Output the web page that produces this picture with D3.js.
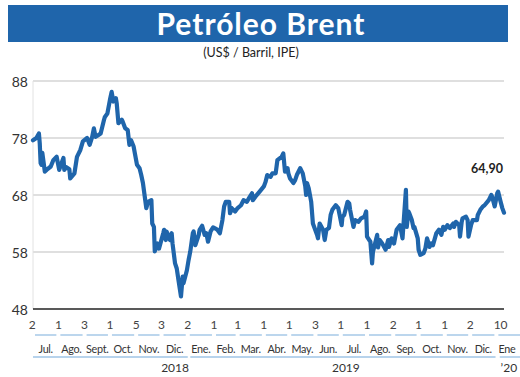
<!DOCTYPE html>
<html>
<head>
<meta charset="utf-8">
<script src="https://cdn.jsdelivr.net/npm/d3@7"></script>
<style>
  body { margin: 0; background: #fff; }
  text { font-family: Lato, "Open Sans", sans-serif; }
</style>
</head>
<body>
<div id="wrapper"></div>
<script>
const title = "Petróleo Brent";
const subtitle = "(US$ / Barril, IPE)";

const yTicks = [48, 58, 68, 78, 88];

// first trading day of each month, shown above the month names
const dayTicks = [
  ["2018-07-01", "2"], ["2018-08-01", "1"], ["2018-09-01", "3"], ["2018-10-01", "1"],
  ["2018-11-01", "5"], ["2018-12-01", "3"], ["2019-01-01", "2"], ["2019-02-01", "1"],
  ["2019-03-01", "1"], ["2019-04-01", "1"], ["2019-05-01", "1"], ["2019-06-01", "3"],
  ["2019-07-01", "1"], ["2019-08-01", "1"], ["2019-09-01", "2"], ["2019-10-01", "1"],
  ["2019-11-01", "1"], ["2019-12-01", "2"], ["2020-01-06", "10"]
];

const months = [
  ["2018-07-01", "Jul."], ["2018-08-01", "Ago."], ["2018-09-01", "Sept."], ["2018-10-01", "Oct."],
  ["2018-11-01", "Nov."], ["2018-12-01", "Dic."], ["2019-01-01", "Ene."], ["2019-02-01", "Feb."],
  ["2019-03-01", "Mar."], ["2019-04-01", "Abr."], ["2019-05-01", "May."], ["2019-06-01", "Jun."],
  ["2019-07-01", "Jul."], ["2019-08-01", "Ago."], ["2019-09-01", "Sep."], ["2019-10-01", "Oct."],
  ["2019-11-01", "Nov."], ["2019-12-01", "Dic."], ["2020-01-01", "Ene"]
];

const years = [
  ["2018-07-02", "2019-01-01", "2018", "2018-12-17"],
  ["2019-01-04", "2019-12-31", "2019", "2019-07-07"],
  ["2020-01-05", "2020-02-01", "’20", "2020-01-06"]
];

const lastLabel = "64,90";

// Brent daily close
const brent = [
  ["2018-07-02",77.6],["2018-07-06",78.0],["2018-07-09",78.8],["2018-07-10",77.0],["2018-07-11",73.6],
  ["2018-07-12",73.3],["2018-07-13",75.4],["2018-07-16",72.1],["2018-07-18",72.4],["2018-07-23",73.0],
  ["2018-07-26",74.1],["2018-07-30",74.7],["2018-08-02",72.4],["2018-08-06",74.1],["2018-08-07",74.5],
  ["2018-08-08",72.4],["2018-08-10",72.9],["2018-08-14",72.5],["2018-08-15",70.9],["2018-08-20",71.8],
  ["2018-08-23",74.7],["2018-08-27",75.9],["2018-08-30",77.4],["2018-09-04",78.0],["2018-09-07",76.8],
  ["2018-09-10",78.2],["2018-09-12",79.7],["2018-09-14",78.2],["2018-09-17",78.5],["2018-09-20",78.8],
  ["2018-09-24",81.2],["2018-09-25",81.7],["2018-09-28",82.3],["2018-10-01",84.7],["2018-10-03",86.1],
  ["2018-10-05",84.4],["2018-10-08",85.0],["2018-10-09",84.1],["2018-10-11",80.6],["2018-10-15",81.2],
  ["2018-10-16",80.9],["2018-10-19",79.7],["2018-10-22",79.4],["2018-10-24",76.8],["2018-10-26",77.6],
  ["2018-10-29",76.5],["2018-11-02",73.3],["2018-11-05",72.7],["2018-11-07",71.5],["2018-11-09",70.1],
  ["2018-11-13",65.7],["2018-11-15",66.8],["2018-11-19",67.1],["2018-11-20",63.0],["2018-11-22",62.4],
  ["2018-11-23",58.1],["2018-11-26",59.5],["2018-11-28",58.6],["2018-12-03",61.3],["2018-12-04",61.9],
  ["2018-12-06",60.1],["2018-12-07",61.6],["2018-12-11",60.1],["2018-12-13",61.3],["2018-12-14",59.5],
  ["2018-12-17",56.0],["2018-12-19",55.1],["2018-12-21",53.1],["2018-12-24",50.2],["2018-12-26",53.7],
  ["2018-12-27",52.5],["2018-12-31",54.8],["2019-01-02",56.6],["2019-01-04",58.1],["2019-01-07",61.3],
  ["2019-01-08",61.6],["2019-01-10",59.2],["2019-01-14",61.0],["2019-01-15",61.9],["2019-01-18",62.6],
  ["2019-01-21",61.0],["2019-01-23",61.3],["2019-01-25",59.8],["2019-01-28",61.6],["2019-01-31",62.3],
  ["2019-02-04",62.0],["2019-02-05",61.9],["2019-02-08",61.3],["2019-02-11",63.6],["2019-02-13",66.0],
  ["2019-02-15",66.8],["2019-02-19",66.8],["2019-02-20",64.8],["2019-02-22",65.7],["2019-02-26",65.1],
  ["2019-03-01",65.7],["2019-03-05",66.2],["2019-03-08",67.1],["2019-03-12",66.8],["2019-03-15",67.6],
  ["2019-03-18",68.3],["2019-03-19",67.1],["2019-03-22",67.7],["2019-03-27",68.6],["2019-04-01",69.5],
  ["2019-04-03",70.3],["2019-04-05",71.5],["2019-04-09",71.2],["2019-04-11",71.8],["2019-04-15",71.8],
  ["2019-04-17",74.1],["2019-04-22",74.7],["2019-04-24",75.3],["2019-04-26",72.1],["2019-04-29",72.7],
  ["2019-04-30",71.8],["2019-05-02",70.9],["2019-05-06",70.1],["2019-05-08",70.6],["2019-05-10",71.5],
  ["2019-05-14",72.7],["2019-05-17",71.8],["2019-05-20",69.5],["2019-05-21",68.0],["2019-05-22",70.1],
  ["2019-05-24",69.2],["2019-05-27",66.8],["2019-05-29",63.0],["2019-06-03",61.0],["2019-06-04",60.4],
  ["2019-06-06",63.0],["2019-06-10",61.9],["2019-06-12",60.1],["2019-06-14",61.9],["2019-06-17",62.2],
  ["2019-06-19",64.5],["2019-06-21",65.4],["2019-06-25",66.2],["2019-06-28",65.7],["2019-07-02",62.7],
  ["2019-07-03",64.2],["2019-07-05",64.5],["2019-07-09",66.8],["2019-07-11",66.5],["2019-07-12",65.4],
  ["2019-07-16",62.4],["2019-07-18",63.6],["2019-07-22",63.3],["2019-07-25",63.9],["2019-07-29",64.2],
  ["2019-07-31",65.1],["2019-08-01",60.7],["2019-08-05",59.8],["2019-08-07",56.0],["2019-08-08",58.0],
  ["2019-08-13",61.0],["2019-08-14",58.8],["2019-08-16",60.1],["2019-08-19",59.5],["2019-08-23",58.4],
  ["2019-08-26",60.1],["2019-08-27",58.9],["2019-08-30",60.4],["2019-09-02",59.5],["2019-09-05",61.9],
  ["2019-09-09",62.7],["2019-09-12",60.4],["2019-09-16",68.9],["2019-09-17",62.4],["2019-09-19",65.1],
  ["2019-09-20",64.8],["2019-09-23",63.6],["2019-09-25",62.2],["2019-09-26",62.4],["2019-09-30",60.4],
  ["2019-10-01",58.4],["2019-10-03",57.5],["2019-10-07",57.8],["2019-10-09",58.6],["2019-10-11",60.4],
  ["2019-10-14",58.9],["2019-10-16",59.5],["2019-10-18",59.2],["2019-10-22",61.3],["2019-10-25",61.9],
  ["2019-10-28",61.0],["2019-10-30",62.4],["2019-11-01",61.9],["2019-11-04",62.7],["2019-11-07",62.2],
  ["2019-11-11",63.0],["2019-11-12",62.4],["2019-11-14",63.3],["2019-11-18",62.7],["2019-11-19",60.7],
  ["2019-11-21",63.3],["2019-11-22",63.9],["2019-11-26",64.2],["2019-11-28",63.6],["2019-11-29",60.7],
  ["2019-12-02",62.7],["2019-12-04",63.6],["2019-12-09",63.6],["2019-12-10",64.5],["2019-12-13",65.4],
  ["2019-12-16",66.0],["2019-12-18",66.2],["2019-12-23",67.1],["2019-12-26",68.0],["2019-12-27",67.7],
  ["2019-12-30",66.0],["2020-01-02",68.3],["2020-01-03",68.6],["2020-01-06",66.8],["2020-01-08",65.7],
  ["2020-01-10",64.9]
];

function drawChart() {
  const parse = d3.timeParse("%Y-%m-%d");
  const data = brent.map(d => ({ date: parse(d[0]), value: d[1] }));

  const dimensions = {
    width: 520,
    height: 377,
    margin: { top: 81, right: 16, bottom: 68, left: 33 }
  };
  dimensions.boundedWidth = dimensions.width - dimensions.margin.left - dimensions.margin.right;
  dimensions.boundedHeight = dimensions.height - dimensions.margin.top - dimensions.margin.bottom;

  const svg = d3.select("#wrapper")
    .append("svg")
    .attr("width", dimensions.width)
    .attr("height", dimensions.height);

  // title bar
  svg.append("rect")
    .attr("x", 8).attr("y", 5)
    .attr("width", 500).attr("height", 37)
    .attr("fill", "#1f65ab");

  svg.append("text")
    .attr("x", 261).attr("y", 35)
    .attr("text-anchor", "middle")
    .attr("fill", "#fff")
    .style("font-size", "30px")
    .style("font-weight", "bold")
    .style("letter-spacing", "1px")
    .text(title);

  svg.append("text")
    .attr("x", 251).attr("y", 57)
    .attr("text-anchor", "middle")
    .attr("fill", "#222")
    .style("font-size", "12.5px")
    .text(subtitle);

  const bounds = svg.append("g")
    .attr("transform", `translate(${dimensions.margin.left},${dimensions.margin.top})`);

  const xScale = d3.scaleTime()
    .domain([parse("2018-07-02"), parse("2020-01-10")])
    .range([0, dimensions.boundedWidth]);

  const yScale = d3.scaleLinear()
    .domain([48, 88])
    .range([dimensions.boundedHeight, 0]);

  // grid
  bounds.append("g")
    .selectAll("line")
    .data(yTicks.filter(d => d > 48))
    .join("line")
    .attr("x1", 0).attr("x2", dimensions.boundedWidth)
    .attr("y1", d => yScale(d)).attr("y2", d => yScale(d))
    .attr("stroke", "#d4d4d4")
    .attr("stroke-width", 1.5);

  bounds.append("line")
    .attr("x1", 0).attr("x2", 0)
    .attr("y1", 0).attr("y2", dimensions.boundedHeight)
    .attr("stroke", "#e2e2e2")
    .attr("stroke-width", 1);

  // y labels
  bounds.append("g")
    .selectAll("text")
    .data(yTicks)
    .join("text")
    .attr("x", -5)
    .attr("y", d => yScale(d) + 1)
    .attr("dy", "0.35em")
    .attr("text-anchor", "end")
    .attr("fill", "#333")
    .style("font-size", "14px")
    .text(d => d);

  // line
  const lineGenerator = d3.line()
    .x(d => xScale(d.date))
    .y(d => yScale(d.value));

  bounds.append("path")
    .datum(data)
    .attr("d", lineGenerator)
    .attr("fill", "none")
    .attr("stroke", "#1f65ab")
    .attr("stroke-width", 4.2)
    .attr("stroke-linejoin", "round")
    .attr("stroke-linecap", "round");

  // x axis line
  bounds.append("line")
    .attr("x1", 0).attr("x2", dimensions.boundedWidth)
    .attr("y1", dimensions.boundedHeight).attr("y2", dimensions.boundedHeight)
    .attr("stroke", "#222")
    .attr("stroke-width", 1.6);

  const last = data[data.length - 1];
  bounds.append("text")
    .attr("x", xScale(last.date) - 17)
    .attr("y", yScale(last.value) - 40)
    .attr("text-anchor", "middle")
    .attr("fill", "#222")
    .style("font-size", "12.5px")
    .style("font-weight", "bold")
    .text(lastLabel);

  // bottom labels
  const axis = svg.append("g")
    .attr("transform", `translate(${dimensions.margin.left},0)`);

  axis.selectAll(".day")
    .data(dayTicks)
    .join("text")
    .attr("class", "day")
    .attr("x", d => xScale(parse(d[0])))
    .attr("y", 329)
    .attr("text-anchor", "middle")
    .attr("fill", "#444")
    .style("font-size", "12px")
    .text(d => d[1]);

  const monthEnd = d => d3.timeMonth.offset(parse(d[0]), 1);

  axis.selectAll(".mseg")
    .data(months)
    .join("line")
    .attr("class", "mseg")
    .attr("x1", d => Math.max(0, xScale(parse(d[0]))) + 2)
    .attr("x2", d => xScale(monthEnd(d)) - 2)
    .attr("y1", 335).attr("y2", 335)
    .attr("stroke", "#9fc5e6")
    .attr("stroke-width", 1.4);

  axis.selectAll(".month")
    .data(months)
    .join("text")
    .attr("class", "month")
    .attr("x", d => d[1] === "Ene" ? xScale(parse(d[0])) + 2
      : (Math.max(0, xScale(parse(d[0]))) + xScale(monthEnd(d))) / 2)
    .attr("y", 353)
    .attr("text-anchor", d => d[1] === "Ene" ? "start" : "middle")
    .attr("fill", "#333")
    .style("font-size", "10.8px")
    .style("letter-spacing", "-0.3px")
    .text(d => d[1]);

  axis.selectAll(".yseg")
    .data(years)
    .join("line")
    .attr("class", "yseg")
    .attr("x1", d => xScale(parse(d[0])))
    .attr("x2", d => xScale(parse(d[1])))
    .attr("y1", 357).attr("y2", 357)
    .attr("stroke", "#9fc5e6")
    .attr("stroke-width", 1.4);

  axis.selectAll(".year")
    .data(years)
    .join("text")
    .attr("class", "year")
    .attr("x", d => xScale(parse(d[3])))
    .attr("y", 372)
    .attr("text-anchor", d => d[2] === "’20" ? "start" : "middle")
    .attr("fill", "#333")
    .style("font-size", "12px")
    .text(d => d[2]);
}

drawChart();
</script>
</body>
</html>
